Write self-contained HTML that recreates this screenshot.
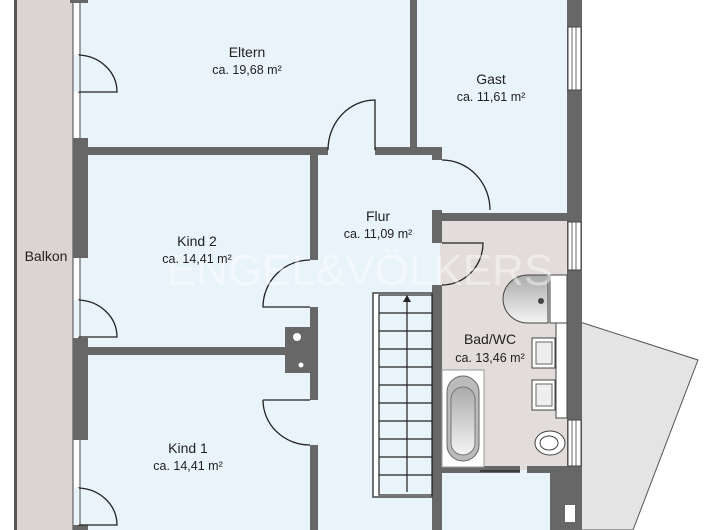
<!DOCTYPE html>
<html><head><meta charset="utf-8"><style>
html,body{margin:0;padding:0;background:#fff;}
svg{display:block;}
text{font-family:"Liberation Sans",sans-serif;fill:#222;}
</style></head><body>
<svg width="720" height="530" viewBox="0 0 720 530" xmlns="http://www.w3.org/2000/svg">
<polygon points="580,322 698,360 633,530 580,530" fill="#e4e4e4" stroke="#555" stroke-width="1"/>
<rect x="16" y="0" width="59" height="530" fill="#dcd4d2"/>
<rect x="14" y="0" width="3" height="530" fill="#555"/>
<rect x="75" y="0" width="495" height="530" fill="#e9f3fa"/>
<rect x="440" y="220" width="127" height="250" fill="#e2dcdb"/>
<rect x="73" y="0" width="7" height="530" fill="#fff" stroke="#444" stroke-width="1"/>
<rect x="73" y="0" width="15" height="3" fill="#676767"/>
<rect x="73" y="138" width="15" height="120" fill="#676767"/>
<rect x="73" y="338" width="15" height="102" fill="#676767"/>
<rect x="73" y="525" width="15" height="5" fill="#676767"/>
<g fill="none" stroke="#222" stroke-width="1.3">
<path d="M78,55 A40,37 0 0 1 117,92 L78,92"/>
<path d="M78,300 A40,37 0 0 1 117,337 L78,337"/>
<path d="M78,488 A40,37 0 0 1 117,525 L78,525"/>
</g>
<rect x="74" y="55" width="5" height="37" fill="#e9f3fa"/>
<rect x="74" y="300" width="5" height="37" fill="#e9f3fa"/>
<rect x="74" y="488" width="5" height="37" fill="#e9f3fa"/>
<g fill="#676767">
<rect x="73" y="147" width="255" height="8"/>
<rect x="375" y="147" width="67" height="8"/>
<rect x="432" y="147" width="10" height="13"/>
<rect x="410" y="0" width="7" height="150"/>
<rect x="310" y="155" width="8" height="105"/>
<rect x="310" y="307" width="8" height="93"/>
<rect x="285" y="327" width="33" height="46"/>
<rect x="73" y="347" width="215" height="8"/>
<rect x="310" y="445" width="8" height="85"/>
<rect x="432" y="210" width="10" height="33"/>
<rect x="432" y="285" width="10" height="245"/>
<rect x="432" y="213" width="140" height="8"/>
<rect x="567" y="0" width="15" height="530"/>
<rect x="440" y="466" width="80" height="7"/>
<rect x="527" y="466" width="40" height="7"/>
<rect x="550" y="470" width="32" height="60"/>
<rect x="70" y="0" width="12" height="3"/>
</g>
<circle cx="297" cy="337" r="4" fill="#fff"/>
<circle cx="301" cy="365" r="2.5" fill="#fff"/>
<g fill="#fff" stroke="#444" stroke-width="1">
<rect x="568" y="27" width="13" height="63"/>
<rect x="568" y="222" width="13" height="48"/>
<rect x="568" y="420" width="13" height="46"/>
<rect x="556" y="300" width="11" height="118"/>
<rect x="550" y="275" width="17" height="48"/>
<rect x="565" y="505" width="10" height="17" stroke="none"/>
</g>
<g stroke="#444" stroke-width="0.8">
<line x1="572" y1="27" x2="572" y2="90"/><line x1="576" y1="27" x2="576" y2="90"/>
<line x1="572" y1="222" x2="572" y2="270"/><line x1="576" y1="222" x2="576" y2="270"/>
<line x1="572" y1="420" x2="572" y2="466"/><line x1="576" y1="420" x2="576" y2="466"/>
</g>
<g fill="none" stroke="#222" stroke-width="1.3">
<path d="M328,150 A47,50 0 0 1 375,100 L375,150"/>
<path d="M442,160 A48,50 0 0 1 490,210"/>
<path d="M442,243 L483,243 A41,42 0 0 1 442,285"/>
<path d="M310,260 A47,47 0 0 0 263,307 L310,307"/>
<path d="M263,400 L310,400 M263,400 A47,45 0 0 0 310,445"/>
<line x1="480" y1="471" x2="520" y2="471"/>
</g>
<rect x="373" y="293" width="59" height="204" fill="#fff" stroke="#444" stroke-width="1.5"/>
<rect x="379" y="295" width="53" height="200" fill="#e9f3fa" stroke="#222" stroke-width="1.2"/>
<g stroke="#222" stroke-width="1.2">
<line x1="379" y1="313" x2="432" y2="313"/><line x1="379" y1="331" x2="432" y2="331"/>
<line x1="379" y1="349" x2="432" y2="349"/><line x1="379" y1="367" x2="432" y2="367"/>
<line x1="379" y1="385" x2="432" y2="385"/><line x1="379" y1="403" x2="432" y2="403"/>
<line x1="379" y1="421" x2="432" y2="421"/><line x1="379" y1="439" x2="432" y2="439"/>
<line x1="379" y1="457" x2="432" y2="457"/><line x1="379" y1="475" x2="432" y2="475"/>
<line x1="407" y1="300" x2="407" y2="492"/>
</g>
<polygon points="407,295 403,302 411,302" fill="#222"/>
<defs><linearGradient id="g" x1="0" y1="0" x2="0" y2="1"><stop offset="0" stop-color="#aaa"/><stop offset="1" stop-color="#f4f4f4"/></linearGradient></defs>
<rect x="442" y="370" width="42" height="97" fill="#fff" stroke="#999"/>
<rect x="447" y="376" width="32" height="85" rx="16" fill="#bbb" stroke="#666"/>
<rect x="451" y="387" width="24" height="68" rx="12" fill="url(#g)" stroke="#777"/>
<path d="M548,275 L528,275 A25,24 0 0 0 528,323 L548,323 Z" fill="url(#g)" stroke="#444"/>
<circle cx="541" cy="301" r="3" fill="#444"/>
<rect x="532" y="338" width="23" height="30" fill="#fff" stroke="#444"/>
<rect x="536" y="342" width="16" height="22" fill="#eee" stroke="#666"/>
<rect x="532" y="380" width="23" height="30" fill="#fff" stroke="#444"/>
<rect x="536" y="384" width="16" height="22" fill="#eee" stroke="#666"/>
<ellipse cx="550" cy="443" rx="15" ry="12" fill="#fff" stroke="#444"/>
<ellipse cx="549" cy="443" rx="9" ry="7" fill="#fff" stroke="#444"/>
<text x="360" y="285" font-size="44" text-anchor="middle" style="fill:#fff;opacity:0.45">ENGEL&amp;VÖLKERS</text>
<text x="247" y="57" font-size="14" text-anchor="middle">Eltern</text>
<text x="247" y="74" font-size="12.5" text-anchor="middle">ca. 19,68 m²</text>
<text x="491" y="84" font-size="14" text-anchor="middle">Gast</text>
<text x="491" y="101" font-size="12.5" text-anchor="middle">ca. 11,61 m²</text>
<text x="378" y="221" font-size="14" text-anchor="middle">Flur</text>
<text x="378" y="238" font-size="12.5" text-anchor="middle">ca. 11,09 m²</text>
<text x="197" y="246" font-size="14" text-anchor="middle">Kind 2</text>
<text x="197" y="263" font-size="12.5" text-anchor="middle">ca. 14,41 m²</text>
<text x="46" y="261" font-size="14" text-anchor="middle">Balkon</text>
<text x="490" y="344" font-size="14" text-anchor="middle">Bad/WC</text>
<text x="490" y="362" font-size="12.5" text-anchor="middle">ca. 13,46 m²</text>
<text x="188" y="453" font-size="14" text-anchor="middle">Kind 1</text>
<text x="188" y="470" font-size="12.5" text-anchor="middle">ca. 14,41 m²</text>
</svg>
</body></html>
